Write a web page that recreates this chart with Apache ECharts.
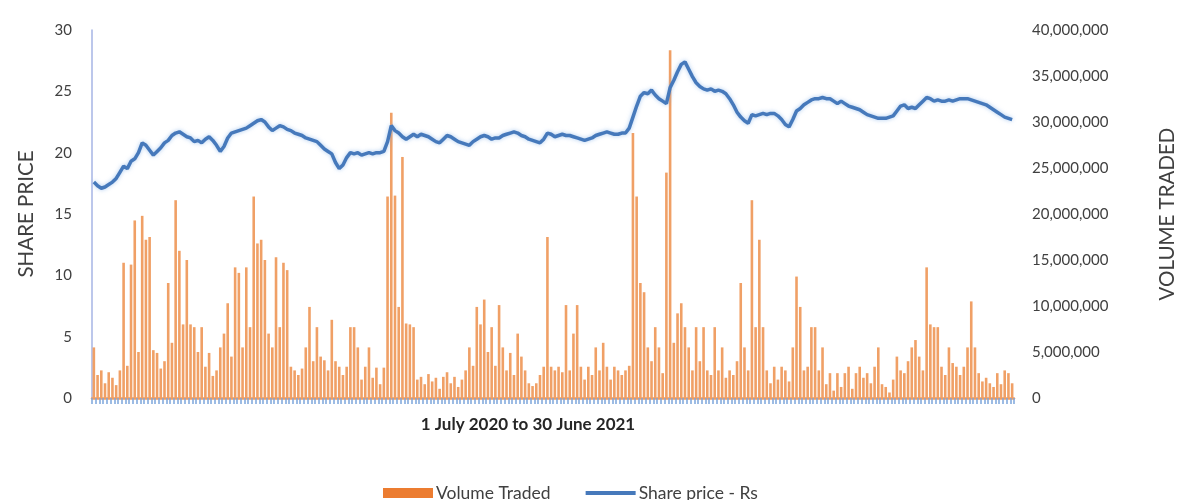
<!DOCTYPE html>
<html>
<head>
<meta charset="utf-8">
<title>Share price and volume traded</title>
<script src="https://cdn.jsdelivr.net/npm/echarts@6/dist/echarts.min.js"></script>
<style>
  html, body { margin: 0; padding: 0; background: #ffffff; }
  #chart { width: 1186px; height: 500px; }
</style>
</head>
<body>
<div id="chart"></div>
<script>
// Daily volume traded, in millions of shares (1 July 2020 - 30 June 2021)
const volumeMillions = [
  5.5, 2.5, 3.0, 1.6, 2.8, 2.2, 1.4, 3.0, 14.7, 3.5,
  14.5, 19.3, 5.0, 19.8, 17.2, 17.5, 5.2, 4.9, 3.2, 4.0,
  12.5, 6.0, 21.5, 16.0, 8.0, 15.0, 8.0, 7.7, 5.0, 7.7,
  3.4, 4.9, 2.4, 3.0, 5.5, 7.0, 10.3, 4.5, 14.2, 13.6,
  5.5, 14.2, 7.7, 21.9, 16.8, 17.2, 15.0, 7.0, 5.5, 15.3,
  7.7, 14.7, 13.9, 3.4, 3.0, 2.5, 3.2, 5.5, 9.9, 4.0,
  7.7, 4.5, 4.1, 3.0, 8.5, 4.0, 3.4, 2.5, 3.4, 7.7,
  7.7, 5.5, 2.0, 3.4, 5.5, 2.2, 3.3, 1.5, 3.3, 21.9,
  31.0, 22.0, 9.9, 26.2, 8.1, 8.0, 7.7, 2.0, 2.3, 1.5,
  2.6, 1.8, 2.2, 1.0, 2.3, 2.8, 1.6, 2.3, 1.2, 2.0,
  3.0, 5.5, 3.5, 9.9, 8.0, 10.7, 5.0, 7.7, 3.5, 10.1,
  5.5, 3.0, 4.9, 2.5, 7.0, 4.5, 3.0, 1.6, 1.3, 1.6,
  2.5, 3.4, 17.5, 3.4, 3.0, 3.4, 2.8, 10.1, 3.0, 7.0,
  10.1, 3.4, 2.0, 3.4, 2.5, 5.5, 3.0, 6.0, 3.4, 2.0,
  3.4, 3.0, 2.5, 3.0, 3.5, 28.8, 21.9, 12.5, 11.5, 5.5,
  4.0, 7.7, 5.5, 2.7, 24.5, 37.8, 6.0, 9.2, 10.3, 7.7,
  5.5, 3.0, 7.7, 4.0, 7.7, 3.0, 2.5, 7.7, 3.0, 5.5,
  2.2, 3.0, 2.5, 4.0, 12.5, 5.5, 3.0, 21.5, 7.7, 17.2,
  7.7, 3.0, 1.6, 3.4, 2.0, 3.4, 3.0, 1.8, 5.5, 13.2,
  9.9, 3.0, 3.4, 7.7, 7.7, 3.0, 5.5, 1.5, 2.7, 0.8,
  2.7, 1.2, 2.7, 3.4, 1.0, 2.7, 3.4, 2.2, 2.7, 1.6,
  3.4, 5.5, 1.5, 1.2, 0.6, 2.0, 4.5, 3.0, 2.7, 4.0,
  5.5, 6.3, 4.5, 3.0, 14.2, 8.0, 7.7, 7.7, 3.4, 2.5,
  5.5, 3.8, 3.4, 2.5, 3.4, 5.5, 10.5, 5.5, 2.7, 1.8,
  2.2, 1.6, 1.2, 2.7, 1.5, 3.0, 2.7, 1.6
];

// Daily closing share price, Rs
const sharePrice = [
  17.6, 17.3, 17.1, 17.2, 17.4, 17.6, 17.9, 18.4, 18.9, 18.7,
  19.3, 19.5, 20.0, 20.8, 20.6, 20.2, 19.8, 20.1, 20.4, 20.8,
  21.0, 21.4, 21.6, 21.7, 21.5, 21.3, 21.2, 20.9, 21.0, 20.8,
  21.1, 21.3, 21.0, 20.6, 20.1, 20.5, 21.2, 21.6, 21.7, 21.8,
  21.9, 22.0, 22.2, 22.4, 22.6, 22.7, 22.5, 22.1, 21.8, 22.0,
  22.2, 22.1, 21.9, 21.8, 21.6, 21.5, 21.4, 21.2, 21.1, 21.0,
  20.9, 20.6, 20.3, 20.1, 19.9, 19.2, 18.7, 19.0, 19.6, 20.0,
  19.9, 20.0, 19.8, 19.9, 20.0, 19.9, 20.0, 20.0, 20.1, 20.9,
  22.2, 21.8, 21.6, 21.3, 21.1, 21.3, 21.5, 21.3, 21.5, 21.4,
  21.3, 21.1, 20.9, 20.8, 21.1, 21.4, 21.3, 21.1, 20.9, 20.8,
  20.7, 20.6, 20.9, 21.1, 21.3, 21.4, 21.3, 21.1, 21.2, 21.2,
  21.4, 21.5, 21.6, 21.7, 21.6, 21.4, 21.3, 21.1, 21.0, 20.9,
  20.8, 21.1, 21.6, 21.5, 21.3, 21.4, 21.5, 21.4, 21.4, 21.3,
  21.2, 21.1, 21.0, 21.1, 21.2, 21.4, 21.5, 21.6, 21.7, 21.6,
  21.5, 21.5, 21.6, 21.6, 22.0, 22.9, 23.8, 24.6, 24.9, 24.8,
  25.1, 24.7, 24.4, 24.2, 24.0, 25.3, 25.9, 26.6, 27.2, 27.4,
  26.8, 26.2, 25.7, 25.4, 25.2, 25.1, 25.2, 25.0, 25.1, 25.0,
  24.8, 24.4, 23.9, 23.3, 22.9, 22.6, 22.4, 23.1, 23.0, 23.1,
  23.2, 23.1, 23.2, 23.2, 23.0, 22.7, 22.3, 22.1, 22.7, 23.4,
  23.6, 23.9, 24.1, 24.3, 24.4, 24.4, 24.5, 24.4, 24.4, 24.2,
  24.0, 24.2, 24.0, 23.8, 23.7, 23.6, 23.5, 23.3, 23.1, 23.0,
  22.9, 22.8, 22.8, 22.8, 22.9, 23.0, 23.4, 23.8, 23.9, 23.6,
  23.7, 23.6, 23.9, 24.2, 24.5, 24.4, 24.2, 24.3, 24.2, 24.2,
  24.3, 24.2, 24.3, 24.4, 24.4, 24.4, 24.3, 24.2, 24.1, 24.0,
  23.9, 23.7, 23.5, 23.3, 23.1, 22.9, 22.8, 22.7
];

// Trading-day categories along the horizontal axis
const tradingDays = volumeMillions.map((_, i) => 'Day ' + (i + 1));

const priceTicks = { min: 0, max: 30, interval: 5 };
const volumeTicks = { min: 0, max: 40000000, interval: 5000000 };

const xAxisTitle = '1 July 2020 to 30 June 2021';
const leftAxisTitle = 'SHARE PRICE';
const rightAxisTitle = 'VOLUME TRADED';
const volumeName = 'Volume Traded';
const priceName = 'Share price - Rs';

const volumeData = volumeMillions.map(v => Math.round(v * 1000000));

const FONT = 'Lato, "Open Sans", sans-serif';
const TEXT = '#404040';
const ORANGE = '#f0a066';
const BLUE = '#4679bb';

const chart = echarts.init(document.getElementById('chart'), null, { renderer: 'canvas' });

chart.setOption({
  backgroundColor: '#ffffff',
  animation: false,
  textStyle: { fontFamily: FONT },
  grid: { left: 92, right: 164, top: 30, bottom: 102, containLabel: false },
  legend: {
    left: 378,
    top: 479,
    itemGap: 33,
    itemWidth: 50,
    itemHeight: 10,
    textStyle: { fontFamily: FONT, fontSize: 17.5, color: TEXT, padding: [0, 0, 0, -2] },
    data: [
      { name: volumeName, icon: 'rect', itemStyle: { color: '#ec7c30' } },
      { name: priceName, itemStyle: { opacity: 0 }, lineStyle: { width: 4, color: BLUE } }
    ]
  },
  xAxis: {
    type: 'category',
    data: tradingDays,
    boundaryGap: true,
    name: xAxisTitle,
    nameLocation: 'middle',
    nameGap: 18,
    nameTextStyle: {
      fontFamily: FONT, fontSize: 17, fontWeight: 'bold', color: '#262626',
      padding: [0, 50, 0, 0]
    },
    axisLine: { show: true, lineStyle: { color: '#f29b5c', width: 2.5 } },
    axisTick: { show: true, interval: 0, length: 6, lineStyle: { color: '#7ea7dc', width: 1.5 } },
    axisLabel: { show: false },
    splitLine: { show: false }
  },
  yAxis: [
    {
      type: 'value',
      position: 'left',
      min: priceTicks.min,
      max: priceTicks.max,
      interval: priceTicks.interval,
      name: leftAxisTitle,
      nameLocation: 'middle',
      nameRotate: 90,
      nameGap: 55,
      nameTextStyle: { fontFamily: FONT, fontSize: 20.5, color: TEXT },
      axisLine: { show: true, lineStyle: { color: '#a6b4e4', width: 1.5 } },
      axisTick: { show: false },
      axisLabel: { fontFamily: FONT, fontSize: 15, color: TEXT, margin: 20 },
      splitLine: { show: false }
    },
    {
      type: 'value',
      position: 'right',
      min: volumeTicks.min,
      max: volumeTicks.max,
      interval: volumeTicks.interval,
      name: rightAxisTitle,
      nameLocation: 'middle',
      nameRotate: 90,
      nameGap: 143,
      nameTextStyle: { fontFamily: FONT, fontSize: 20.5, color: TEXT },
      axisLine: { show: false },
      axisTick: { show: false },
      axisLabel: {
        fontFamily: FONT, fontSize: 15, color: TEXT, margin: 18,
        formatter: v => v.toLocaleString('en-US')
      },
      splitLine: { show: false }
    }
  ],
  series: [
    {
      name: volumeName,
      type: 'bar',
      yAxisIndex: 1,
      data: volumeData,
      barCategoryGap: '30%',
      itemStyle: { color: ORANGE },
      z: 2
    },
    {
      name: priceName,
      type: 'line',
      yAxisIndex: 0,
      data: sharePrice,
      symbol: 'none',
      smooth: false,
      itemStyle: { color: BLUE },
      lineStyle: {
        color: BLUE, width: 3.5,
        shadowColor: 'rgba(120,170,230,0.6)', shadowBlur: 4
      },
      z: 3
    }
  ]
});
</script>
</body>
</html>
